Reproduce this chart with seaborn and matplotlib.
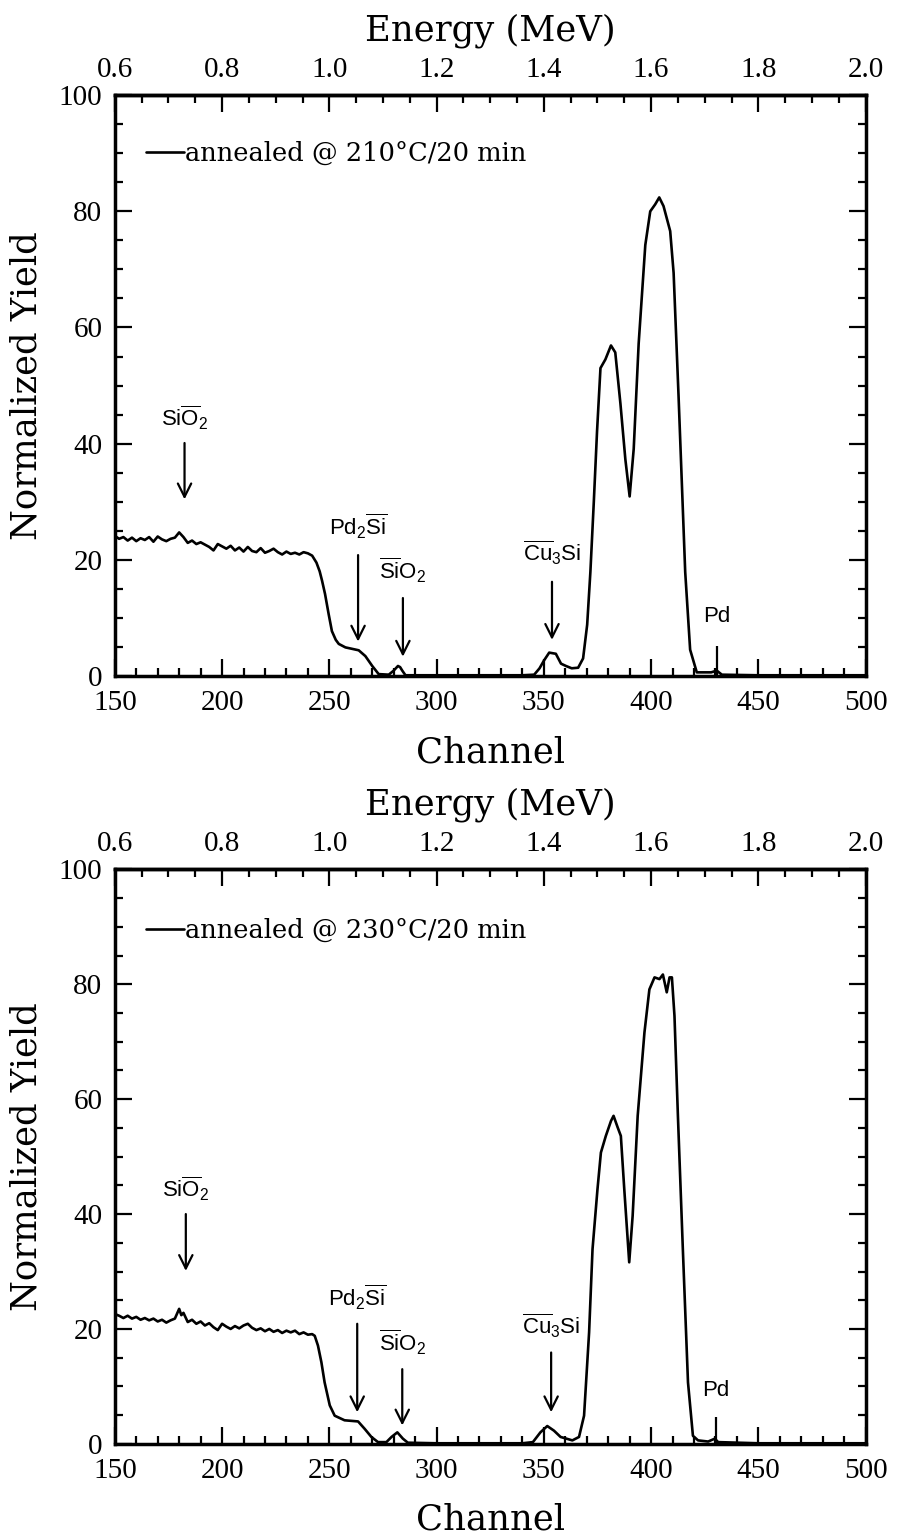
import seaborn as sns
import matplotlib
matplotlib.use("Agg")
import matplotlib.pyplot as plt
from matplotlib.ticker import MultipleLocator

# RBS spectra, top: 210 C anneal, bottom: 230 C anneal
top_ch = [150, 152, 154, 156, 158, 160, 162, 164, 166, 168, 170, 172, 174, 176, 178, 180,
          182, 184, 186, 188, 190, 192, 194, 196, 198, 200, 202, 204, 206, 208, 210, 212,
          214, 216, 218, 220, 222, 224, 226, 228, 230, 232, 234, 236, 238, 240, 242, 244,
          245.5, 246.6, 248, 249.7, 251.2, 253, 254.4, 257.5, 260, 263.7, 266.8, 268.5, 270,
          273, 277.7, 280, 282, 283, 284, 285.5, 300, 320, 340, 345.5, 348, 350, 352.5,
          355.6, 358, 360.3, 363, 366, 368.3, 370.2, 371.7, 373.3, 374.8, 376.4, 378.7,
          381.3, 383.3, 385.7, 388, 390, 391.9, 394.2, 397.3, 399.6, 401.9, 403.8, 405.8,
          408.9, 410.5, 412.8, 415.9, 418.2, 421.3, 428, 430.6, 433, 450, 500]
top_yield = [24.1, 23.6, 23.9, 23.3, 23.8, 23.2, 23.7, 23.4, 23.9, 23.1, 24.0, 23.5, 23.2, 23.6,
             23.8, 24.7, 23.9, 22.9, 23.3, 22.7, 23.0, 22.6, 22.2, 21.6, 22.7, 22.3, 21.9, 22.4,
             21.6, 22.1, 21.4, 22.2, 21.5, 21.3, 22.0, 21.2, 21.5, 21.9, 21.3, 20.9, 21.4, 21.0,
             21.2, 20.9, 21.3, 21.1, 20.7, 19.5, 18.0, 16.4, 14.1, 10.6, 7.7, 6.2, 5.5, 4.9,
             4.7, 4.4, 3.4, 2.5, 1.7, 0.3, 0.2, 0.9, 1.7, 1.5, 0.9, 0.1, 0.1, 0.1, 0.1, 0.2,
             1.3, 2.6, 4.0, 3.8, 2.1, 1.7, 1.3, 1.4, 3.0, 8.8, 17.9, 30.0, 42.1, 53.0, 54.5,
             56.9, 55.7, 46.9, 37.3, 30.9, 39.1, 57.2, 74.2, 80.0, 81.2, 82.4, 80.9, 76.6,
             69.4, 48.2, 17.9, 4.5, 0.6, 0.6, 0.9, 0.2, 0.1, 0.1]

bot_ch = [150, 152, 154, 156, 158, 160, 162, 164, 166, 168, 170, 172, 174, 176, 178, 180,
          181, 182, 184, 186, 188, 190, 192, 194, 196, 198, 200, 202, 204, 206, 208, 210,
          212, 214, 216, 218, 220, 222, 224, 226, 228, 230, 232, 234, 236, 238, 240, 242,
          243.2, 244.7, 246.3, 247.8, 250.2, 252.5, 257.1, 263.4, 266.5, 269.6, 272.7,
          276.6, 279, 281.7, 284.3, 286.6, 300, 320, 340, 344.9, 348.4, 351.6, 354.7, 357.8,
          363.3, 366.4, 368.75, 371.1, 372.7, 375, 376.6, 378.9, 381.3, 382.5, 384.4, 385.9,
          387.5, 389.8, 391.4, 393.75, 396.9, 399.2, 401.6, 403.9, 405.5, 407.3, 408.6,
          409.7, 410.9, 412.5, 414.8, 417.2, 419.5, 421.9, 426.6, 429.7, 431.25, 450, 500]
bot_yield = [22.6, 22.3, 21.9, 22.3, 21.8, 22.1, 21.6, 21.9, 21.5, 21.8, 21.3, 21.6, 21.1, 21.5,
             21.8, 23.5, 22.4, 22.8, 21.2, 21.6, 20.9, 21.3, 20.6, 21.0, 20.3, 19.8, 20.9, 20.4,
             20.0, 20.5, 20.1, 20.6, 20.9, 20.2, 19.8, 20.1, 19.6, 20.0, 19.5, 19.8, 19.3, 19.7,
             19.4, 19.7, 19.1, 19.4, 19.0, 19.1, 18.8, 17.1, 14.2, 10.7, 6.7, 4.9, 4.1, 3.9,
             2.6, 1.2, 0.3, 0.3, 1.2, 2.0, 0.9, 0.2, 0.1, 0.1, 0.1, 0.3, 2.0, 3.1, 2.3, 1.2,
             0.6, 1.2, 4.9, 19.4, 33.9, 44.3, 50.7, 53.6, 56.2, 57.1, 55.1, 53.6, 44.3, 31.6,
             39.7, 57.1, 71.6, 79.1, 81.2, 80.9, 81.7, 78.6, 81.2, 81.2, 74.5, 57.1, 33.9,
             10.7, 1.4, 0.6, 0.4, 0.9, 0.3, 0.1, 0.1]

legend_labels = ["annealed @ 210°C/20 min", "annealed @ 230°C/20 min"]
legend_y = [0.90, 0.894]

# peak markers
marker_labels = [r"$\mathrm{Si\overline{O}_2}$", r"$\mathrm{Pd_2\overline{Si}}$",
                 r"$\mathrm{\overline{Si}O_2}$", r"$\mathrm{\overline{Cu}_3Si}$"]
top_arrow_ch = [182.5, 263.4, 284.3, 353.8]
top_arrow_from = [40.1, 20.8, 13.4, 16.2]
top_arrow_to = [30.4, 5.9, 3.3, 6.2]
top_label_y = [44.4, 25.7, 18.1, 21.1]
bot_arrow_ch = [183.1, 263.0, 284.0, 353.4]
bot_arrow_from = [40.0, 20.9, 13.0, 15.9]
bot_arrow_to = [30.1, 5.5, 3.2, 5.5]
bot_label_y = [44.3, 25.5, 17.7, 20.6]
pd_ch = [430.7, 430.3]
pd_height = [5.1, 4.6]
pd_label_y = [10.2, 9.2]

energy_ticks = [0.6, 0.8, 1.0, 1.2, 1.4, 1.6, 1.8, 2.0]
mev_per_channel = 0.004

sns.set_theme(style="ticks")
plt.rcParams["font.family"] = ["Liberation Serif", "DejaVu Serif"]
plt.rcParams["mathtext.fontset"] = "custom"
plt.rcParams["mathtext.rm"] = "Liberation Sans"
plt.rcParams["mathtext.it"] = "Liberation Sans:italic"
for key in ["text.color", "axes.labelcolor", "xtick.color", "ytick.color", "axes.edgecolor"]:
    plt.rcParams[key] = "black"

LABEL_FONT = dict(family="DejaVu Serif", fontsize=25.5, color="black")


def ch2e(c):
    return c * mev_per_channel


def e2ch(e):
    return e / mev_per_channel


def draw_panel(ax, ch, yld, label, arrow_ch, arrow_from, arrow_to, label_y, k):
    sns.lineplot(x=ch, y=yld, ax=ax, color="black", lw=1.9, label=label,
                 estimator=None, sort=False)
    ax.set_xlim(150, 500)
    ax.set_ylim(0, 100)
    ax.xaxis.set_major_locator(MultipleLocator(50))
    ax.xaxis.set_minor_locator(MultipleLocator(10))
    ax.yaxis.set_major_locator(MultipleLocator(20))
    ax.yaxis.set_minor_locator(MultipleLocator(5))
    ax.tick_params(which="both", direction="in", top=False, right=True,
                   labelsize=21, width=1.6)
    ax.tick_params(axis="x", pad=10)
    ax.tick_params(axis="y", pad=9)
    ax.tick_params(which="major", length=12)
    ax.tick_params(which="minor", length=6)
    for s in ax.spines.values():
        s.set_linewidth(2.5)

    ax.set_xlabel("Channel", **LABEL_FONT)
    ax.xaxis.set_label_coords(0.5, -0.102)
    ax.set_ylabel("Normalized Yield", **LABEL_FONT)
    ax.yaxis.set_label_coords(-0.095, 0.5)

    sec = ax.secondary_xaxis("top", functions=(ch2e, e2ch))
    sec.set_xticks(energy_ticks)
    sec.set_xticklabels([f"{e:.1f}" for e in energy_ticks])
    sec.xaxis.set_minor_locator(MultipleLocator(0.05))
    sec.tick_params(which="both", direction="in", labelsize=21, pad=9, width=1.6)
    sec.tick_params(which="major", length=12)
    sec.tick_params(which="minor", length=6)
    sec.spines["top"].set_linewidth(2.5)
    sec.set_xlabel("Energy (MeV)", labelpad=12, **LABEL_FONT)

    for txt, x, y0, y1, ly in zip(marker_labels, arrow_ch, arrow_from, arrow_to, label_y):
        ax.annotate("", xy=(x, y1), xytext=(x, y0),
                    arrowprops=dict(arrowstyle="->", lw=1.6, color="black",
                                    mutation_scale=24, shrinkA=0, shrinkB=0))
        ax.text(x, ly, txt, ha="center", va="center", fontsize=16)

    ax.vlines(pd_ch[k], 0, pd_height[k], color="black", lw=1.6)
    ax.text(pd_ch[k], pd_label_y[k], "Pd", ha="center", va="center",
            fontsize=16, family="Liberation Sans")

    ax.legend(loc="center left", bbox_to_anchor=(0.041, legend_y[k]), frameon=False,
              prop=dict(family="DejaVu Serif", size=18.5), handlelength=1.5,
              handletextpad=0.05, borderpad=0, borderaxespad=0)


fig = plt.figure(figsize=(8.97, 15.36), dpi=100)
ax1 = fig.add_axes([0.128, 0.560, 0.837, 0.378])
ax2 = fig.add_axes([0.128, 0.060, 0.837, 0.374])

draw_panel(ax1, top_ch, top_yield, legend_labels[0], top_arrow_ch, top_arrow_from,
           top_arrow_to, top_label_y, 0)
draw_panel(ax2, bot_ch, bot_yield, legend_labels[1], bot_arrow_ch, bot_arrow_from,
           bot_arrow_to, bot_label_y, 1)

fig.savefig("out.png", dpi=100, facecolor="white")
